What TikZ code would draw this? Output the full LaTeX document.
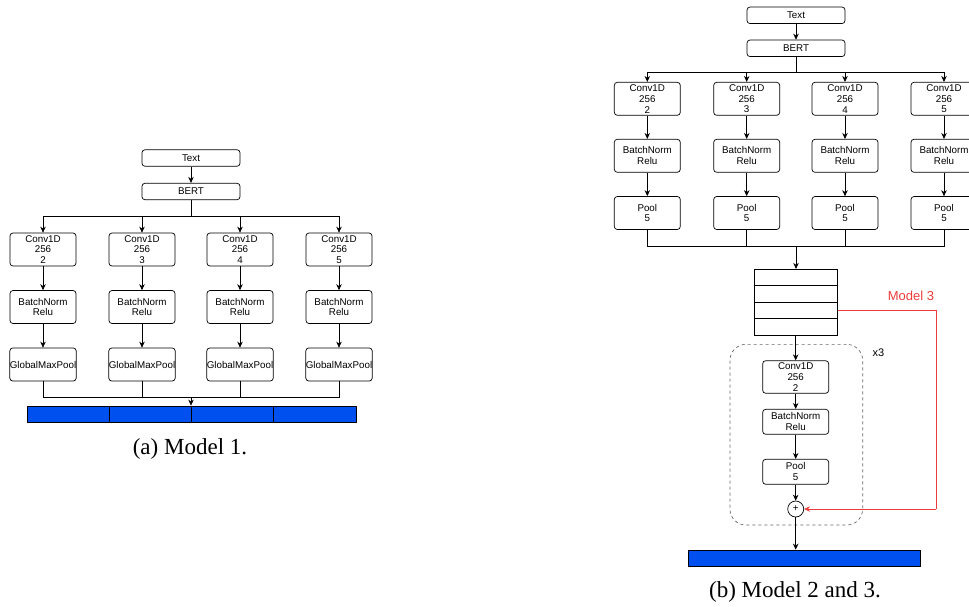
\documentclass[tikz,border=0pt]{standalone}
\usepackage{fontspec}
\setmainfont{Liberation Serif}
\newfontfamily\boxfont{Liberation Sans}
\usetikzlibrary{arrows.meta}

\definecolor{barblue}{RGB}{0,80,239}
\definecolor{resred}{RGB}{235,60,60}

\tikzset{
    layer/.style={draw, rounded corners=3pt, align=center, inner sep=0pt, line width=0.7pt,
        font=\boxfont\fontsize{9.8}{10.8}\selectfont},
    wide/.style={layer, minimum width=98pt, minimum height=16.5pt},
    block/.style={layer, minimum width=66pt, minimum height=33pt},
    flat/.style={layer, minimum width=66pt, minimum height=25pt},
    cell/.style={draw, line width=0.7pt, minimum width=83.3pt, minimum height=16.5pt, inner sep=0pt},
    seg/.style={draw, fill=barblue, line width=0.7pt, minimum width=82.3pt, minimum height=16.7pt, inner sep=0pt},
    arr/.style={-{Stealth[length=6pt, width=5.5pt]}, line width=0.7pt},
    wire/.style={line width=0.7pt},
    caption/.style={font=\fontsize{23}{26}\selectfont},
}

\begin{document}
\begin{tikzpicture}[x=1pt, y=-1pt]
    \useasboundingbox (0,0) rectangle (969,606);
    \clip (0,0) rectangle (969,606);

    % Model 1 nodes
    \path
    (191, 158) node[wide] (text1) {Text}
    (191, 191.5) node[wide] (bert1) {BERT}
    (191, 216.7) coordinate (split1)
    (191, 397.7) coordinate (merge1)
    ;
    \foreach \k/\x in {2/43, 3/142, 4/240, 5/339} {
        \path
        (\x, 249.5) node[block] (conv1\k) {Conv1D\\256\\\k}
        (\x, 307) node[block] (bn1\k) {BatchNorm\\Relu}
        (\x, 364.5) node[block] (gmp1\k) {GlobalMaxPool}
        ;
    }
    \path
    (68, 414.3) node[seg] (bar11) {}
    (150.3, 414.3) node[seg] (bar12) {}
    (232.6, 414.3) node[seg] (bar13) {}
    (314.9, 414.3) node[seg] (bar14) {}
    ;

    % Model 1 edges
    \draw[arr] (text1) -- (bert1);
    \draw[wire] (bert1.south) -- (split1);
    \foreach \k in {2,3,4,5} {
        \draw[arr] (split1) -| (conv1\k.north);
        \draw[arr] (conv1\k) -- (bn1\k);
        \draw[arr] (bn1\k) -- (gmp1\k);
        \draw[wire] (gmp1\k.south) |- (merge1);
    }
    \draw[arr] (merge1) -- (merge1 |- bar12.north);

    % Model 2 and 3 nodes
    \path
    (796, 15.3) node[wide] (text2) {Text}
    (796, 48.3) node[wide] (bert2) {BERT}
    (796, 72.7) coordinate (split2)
    (796, 246) coordinate (merge2)
    ;
    \foreach \k/\x in {2/647.3, 3/746.7, 4/845, 5/944} {
        \path
        (\x, 98.8) node[block] (conv2\k) {Conv1D\\256\\\k}
        (\x, 155.8) node[block] (bn2\k) {BatchNorm\\Relu}
        (\x, 213) node[block] (pool2\k) {Pool\\5}
        ;
    }
    \path
    (795.7, 277.5) node[cell] (reg1) {}
    (795.7, 294) node[cell] (reg2) {}
    (795.7, 310.5) node[cell] (reg3) {}
    (795.7, 327) node[cell] (reg4) {}
    (796.3, 434.7) node[draw, dashed, gray!80!black, line width=0.7pt, rounded corners=16pt,
        minimum width=132.7pt, minimum height=180.7pt] (loop) {}
    (878.3, 352.7) node[font=\boxfont\fontsize{11}{12}\selectfont] (times) {x3}
    (795.7, 377) node[block, minimum height=32.6pt] (conv3) {Conv1D\\256\\2}
    (795.7, 421.8) node[flat] (bn3) {BatchNorm\\Relu}
    (795.7, 471.8) node[flat] (pool3) {Pool\\5}
    (795.7, 509) node[circle, draw, line width=0.7pt, minimum size=16pt, inner sep=0pt,
        font=\boxfont\fontsize{10}{10}\selectfont] (plus) {+}
    (804.2, 558.3) node[draw, fill=barblue, line width=0.7pt, minimum width=231.7pt,
        minimum height=16.7pt, inner sep=0pt] (bar2) {}
    (911, 296) node[text=resred, font=\boxfont\fontsize{13}{15}\selectfont] (model3) {Model 3}
    (936, 509) coordinate (detour)
    ;

    % Model 2 and 3 edges
    \draw[arr] (text2) -- (bert2);
    \draw[wire] (bert2.south) -- (split2);
    \foreach \k in {2,3,4,5} {
        \draw[arr] (split2) -| (conv2\k.north);
        \draw[arr] (conv2\k) -- (bn2\k);
        \draw[arr] (bn2\k) -- (pool2\k);
        \draw[wire] (pool2\k.south) |- (merge2);
    }
    \draw[arr] (merge2) -- (merge2 |- reg1.north);
    \draw[arr] (reg4.south) -- (conv3.north);
    \draw[arr] (conv3) -- (bn3);
    \draw[arr] (bn3) -- (pool3);
    \draw[arr] (pool3) -- (plus);
    \draw[arr] (plus.south) -- (plus.south |- bar2.north);
    \draw[wire, resred] (reg3.east) -| (detour);
    \draw[arr, resred] (detour) -- (plus.east);

    % Captions
    \node[caption] (cap1) at (190, 449) {(a) Model 1.};
    \node[caption] (cap2) at (795, 592) {(b) Model 2 and 3.};
\end{tikzpicture}
\end{document}
